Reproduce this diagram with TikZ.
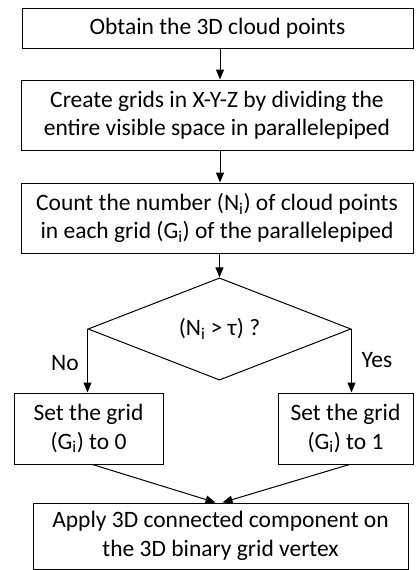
\documentclass[tikz,border=0pt]{standalone}
\usepackage{fontspec}
\setmainfont{Carlito}
\usetikzlibrary{shapes.geometric,arrows.meta}

\tikzset{every picture/.style={line width=1pt}}
\tikzset{
  stepbox/.style={draw, rectangle, inner sep=0pt, align=center, font=\fontsize{23.5}{28.5}\selectfont},
  decbox/.style={draw, diamond, inner sep=0pt, align=center, font=\fontsize{23.5}{28.5}\selectfont},
  lbl/.style={inner sep=0pt, font=\fontsize{23.5}{28.5}\selectfont},
  flow/.style={-{Triangle[length=10pt,width=8pt]}}
}

\begin{document}
\begin{tikzpicture}[x=1pt,y=1pt,yscale=-1,xscale=1]
    \useasboundingbox (0,0) rectangle (415,570);
    %Shape: Rectangle [id:obtain]
    \node [stepbox, minimum width=391pt, minimum height=40pt] (obtain) at (217.5,28) {Obtain the 3D cloud points};
    %Shape: Rectangle [id:grids]
    \node [stepbox, minimum width=392pt, minimum height=70pt] (grids) at (217,115) {Create grids in X-Y-Z by dividing the\\entire visible space in parallelepiped};
    %Shape: Rectangle [id:count]
    \node [stepbox, minimum width=392pt, minimum height=70pt] (count) at (217,218) {Count the number (N\textsubscript{i}) of cloud points\\in each grid (G\textsubscript{i}) of the parallelepiped};
    %Shape: Diamond [id:dec]
    \node [decbox, minimum width=263pt, minimum height=88pt] (dec) at (219.5,329) {(N\textsubscript{i} > τ) ?};
    %Shape: Rectangle [id:setzero]
    \node [stepbox, minimum width=149pt, minimum height=71pt] (setzero) at (88.5,428.5) {Set the grid\\(G\textsubscript{i}) to 0};
    %Shape: Rectangle [id:setone]
    \node [stepbox, minimum width=135pt, minimum height=71pt] (setone) at (345.5,428.5) {Set the grid\\(G\textsubscript{i}) to 1};
    %Shape: Rectangle [id:apply]
    \node [stepbox, minimum width=375pt, minimum height=66pt] (apply) at (220.5,536) {Apply 3D connected component on\\the 3D binary grid vertex};

    %Straight Lines
    \draw [flow] (obtain.south -| 220,0) -- (grids.north -| 220,0) ;
    \draw [flow] (grids.south -| 220,0) -- (count.north -| 220,0) ;
    \draw [flow] (count.south -| dec.north) -- (dec.north) ;
    \draw [flow] (dec.west) -- (dec.west |- setzero.north) ;
    \draw [flow] (dec.east) -- (dec.east |- setone.north) ;
    \draw [flow] ([xshift=4pt]setzero.south) -- ([xshift=-5pt]apply.north) ;
    \draw [flow] ([xshift=4pt]setone.south) -- ([xshift=2pt]apply.north) ;

    % Text Node
    \node [lbl] (no) at (65,363) {No};
    % Text Node
    \node [lbl] (yes) at (377,360) {Yes};
\end{tikzpicture}
\end{document}
